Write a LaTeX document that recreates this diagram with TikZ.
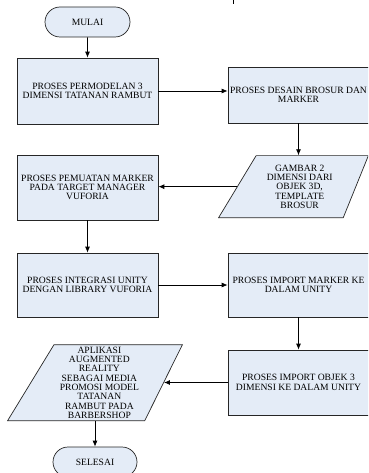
\documentclass[tikz,border=0pt]{standalone}
\usepackage{fontspec}
\setmainfont{Liberation Serif}
\usetikzlibrary{shapes.misc,shapes.geometric,arrows.meta}
\newcommand{\pxsize}{1pt}
\definecolor{boxfill}{HTML}{E4ECF7}

\begin{document}
\begin{tikzpicture}[x=\pxsize,y=-\pxsize]
\useasboundingbox (0,0) rectangle (368,473);
\clip (0,0) rectangle (368,473);
\tikzstyle{every node}=[draw=black!85,
                        fill=boxfill,
                        line width=0.7pt,
                        inner sep=0pt,
                        align=center,
                        font=\fontsize{9.6}{9.3}\selectfont
                        ]
\tikzstyle{terminal}=[rounded rectangle, minimum width=85*\pxsize, minimum height=30*\pxsize]
\tikzstyle{process}=[rectangle, minimum width=141*\pxsize, minimum height=65*\pxsize]
\tikzstyle{data}=[trapezium, trapezium stretches=true]
\tikzstyle{arrow}=[line width=0.8pt, -{Latex[length=6pt,width=5pt]}]
\draw[line width=1pt] (233,0) -- (233,4);
\node[terminal] (mulai) at (87.5,22) {MULAI};
\node[process, minimum height=66*\pxsize] (permodelan) at (87.5,91) {PROSES PERMODELAN 3\\DIMENSI TATANAN RAMBUT};
\node[process, minimum height=56*\pxsize] (desain) at (298.5,95) {PROSES DESAIN BROSUR DAN\\MARKER};
\node[data, trapezium left angle=57, trapezium right angle=113.5,
      minimum width=150*\pxsize, minimum height=62*\pxsize,
      anchor=bottom left corner] (gambar) at (218,218) {GAMBAR 2\\DIMENSI DARI\\OBJEK 3D,\\TEMPLATE\\BROSUR};
\node[process] (pemuatan) at (87.5,187.5) {PROSES PEMUATAN MARKER\\PADA TARGET MANAGER\\VUFORIA};
\node[process, minimum height=64*\pxsize] (integrasi) at (87.5,285) {PROSES INTEGRASI UNITY\\DENGAN LIBRARY VUFORIA};
\node[process, minimum height=64*\pxsize] (importmarker) at (298.5,285) {PROSES IMPORT MARKER KE\\DALAM UNITY};
\node[process] (importobjek) at (298.5,382.5) {PROSES IMPORT OBJEK 3\\DIMENSI KE DALAM UNITY};
\node[data, trapezium left angle=60.5, trapezium right angle=114.7,
      minimum width=175*\pxsize, minimum height=76*\pxsize,
      anchor=bottom left corner] (aplikasi) at (7,421) {APLIKASI\\AUGMENTED\\REALITY\\SEBAGAI MEDIA\\PROMOSI MODEL\\TATANAN\\RAMBUT PADA\\BARBERSHOP};
\node[terminal, minimum width=84*\pxsize] (selesai) at (95,462) {SELESAI};
\draw[arrow] (mulai) -- (permodelan);
\draw[arrow] (permodelan.east) -- (permodelan.east -| desain.west);
\draw[arrow] (desain.south) -- (desain.south |- gambar.north);
\draw[arrow] (gambar.left side) -- (gambar.left side -| pemuatan.east);
\draw[arrow] (pemuatan) -- (integrasi);
\draw[arrow] (integrasi) -- (importmarker);
\draw[arrow] (importmarker) -- (importobjek);
\draw[arrow] (importobjek.west) -- (importobjek.west -| aplikasi.right side);
\draw[arrow] (aplikasi.south -| selesai.north) -- (selesai.north);
\end{tikzpicture}
\end{document}
